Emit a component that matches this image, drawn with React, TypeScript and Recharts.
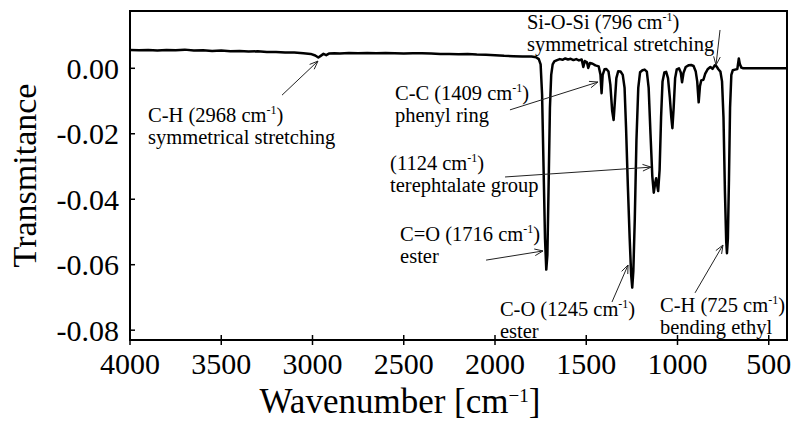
import React from 'react';
import { LineChart, Line, XAxis, YAxis, ReferenceArea, ReferenceLine, ReferenceDot, Label } from 'recharts';

const FONT = "'Liberation Serif', 'Times New Roman', serif";

const wavenumber = [
  4000, 3950, 3900, 3850, 3800, 3750, 3700, 3650, 3600, 3550, 3500, 3450, 3400, 3350, 3300, 3250,
  3200, 3150, 3100, 3050, 3010, 2985, 2968, 2955, 2940, 2925, 2910, 2880, 2850, 2800, 2750, 2700,
  2650, 2600, 2550, 2500, 2450, 2400, 2350, 2300, 2250, 2200, 2150, 2100, 2050, 2000, 1950, 1900,
  1850, 1800, 1775, 1760, 1750, 1742, 1734, 1726, 1719, 1713, 1706, 1699, 1692, 1684, 1675, 1660,
  1645, 1630, 1615, 1600, 1585, 1570, 1555, 1540, 1525, 1516, 1508, 1496, 1489, 1480, 1465, 1450,
  1432, 1422, 1416, 1410, 1400, 1390, 1378, 1368, 1358, 1350, 1343, 1335, 1325, 1312, 1300, 1290,
  1282, 1272, 1262, 1254, 1248, 1242, 1234, 1225, 1215, 1205, 1192, 1180, 1168, 1158, 1148, 1138,
  1130, 1122, 1117, 1112, 1106, 1098, 1090, 1082, 1072, 1062, 1052, 1042, 1034, 1028, 1021, 1013,
  1004, 992, 982, 975, 967, 955, 940, 925, 912, 900, 892, 884, 877, 870, 858, 848,
  835, 820, 808, 796, 786, 776, 765, 756, 748, 740, 733, 729, 724, 718, 712, 705,
  697, 685, 672, 664, 658, 650, 640, 400,
];

const transmittance = [
  0.0056, 0.0055, 0.0056, 0.0054, 0.0056, 0.0055, 0.0057, 0.0054, 0.0055, 0.0053, 0.0054, 0.0052, 0.0053, 0.0051, 0.0052, 0.005,
  0.005, 0.0048, 0.0048, 0.0046, 0.0044, 0.0039, 0.0033, 0.0038, 0.0044, 0.004, 0.0045, 0.0046, 0.0045, 0.0047, 0.0046, 0.0047,
  0.0046, 0.0047, 0.0046, 0.0045, 0.0046, 0.0046, 0.0045, 0.0044, 0.0044, 0.0043, 0.0044, 0.0042, 0.0041, 0.004, 0.0038, 0.0037,
  0.0036, 0.0036, 0.0034, 0.0028, 0.0012, -0.008, -0.03, -0.052, -0.0615, -0.057, -0.035, -0.012, -0.002, 0.0012, 0.0021, 0.0025,
  0.0028, 0.0026, 0.003, 0.0027, 0.0029, 0.0025, 0.0028, 0.0024, 0.0027, 0.0004, 0.0022, 0.0018, 0.0001, 0.0016, 0.0014, 0.0009,
  0.0006, -0.002, -0.0076, -0.002, -0.0003, -0.0002, -0.001, -0.005, -0.013, -0.0158, -0.01, -0.003, -0.0009, -0.001, -0.002, -0.006,
  -0.018, -0.036, -0.052, -0.063, -0.067, -0.062, -0.046, -0.022, -0.006, -0.0012, -0.0006, -0.0004, -0.001, -0.006, -0.02, -0.033,
  -0.038, -0.035, -0.0336, -0.0355, -0.0375, -0.031, -0.015, -0.004, -0.0013, -0.0011, -0.003, -0.009, -0.015, -0.0183, -0.012, -0.003,
  -0.0003, 0.0, -0.0013, -0.0043, -0.0014, 0.0004, 0.0009, 0.001, 0.0007, -0.001, -0.004, -0.0104, -0.0055, -0.0037, -0.0035, -0.0016,
  -0.0003, 0.0004, -0.0002, 0.0009, 0.0006, -0.0003, -0.001, -0.004, -0.015, -0.038, -0.053, -0.0565, -0.052, -0.034, -0.012, -0.002,
  -0.0006, -0.0004, -0.0002, 0.003, 0.0012, 0.0002, 0.0, 0.0,
];

const xTicks = [4000, 3500, 3000, 2500, 2000, 1500, 1000, 500];
const yTicks = [0, -0.02, -0.04, -0.06, -0.08];
const xDomain = [400, 4000];
const yDomain = [-0.083, 0.0175];

const annotationLabels = [
  { prefix: 'C-H (2968 cm', second: 'symmetrical stretching' },
  { prefix: 'Si-O-Si (796 cm', second: 'symmetrical stretching' },
  { prefix: 'C-C (1409 cm', second: 'phenyl ring' },
  { prefix: '(1124 cm', second: 'terephtalate group' },
  { prefix: 'C=O (1716 cm', second: 'ester' },
  { prefix: 'C-O (1245 cm', second: 'ester' },
  { prefix: 'C-H (725 cm', second: 'bending ethyl' },
];
// anchor of text and arrow (tail -> head) in data coordinates [wavenumber, transmittance]
const annotationText = [
  [3901, -0.0164], [1825, 0.012], [2548, -0.0097], [2575, -0.0311], [2520, -0.0528], [1973, -0.0757], [1096, -0.0744],
];
const annotationTail = [
  [3167, -0.0082], [767, 0.0117], [1918, -0.0127], [1945, -0.0332], [2049, -0.0586], [1359, -0.0714], [904, -0.0686],
];
const annotationHead = [
  [2970, 0.0022], [789, 0.001], [1436, -0.0042], [1145, -0.0302], [1737, -0.0558], [1271, -0.0601], [751, -0.054],
];

const data = wavenumber.map((wn, i) => ({ wn, t: transmittance[i] }));

const XTick = (props: any) => {
  const { x, y, payload } = props;
  return (
    <g>
      <line x1={x} x2={x} y1={y - 5} y2={y + 5} stroke="#000" strokeWidth={1.5} />
      <text x={x} y={y + 34} textAnchor="middle" fontFamily={FONT} fontSize={30} fill="#000">
        {payload.value}
      </text>
    </g>
  );
};

const YTick = (props: any) => {
  const { x, y, payload } = props;
  return (
    <g>
      <line x1={x} x2={x + 5} y1={y} y2={y} stroke="#000" strokeWidth={1.5} />
      <text x={x - 11} y={y} dy="0.35em" textAnchor="end" fontFamily={FONT} fontSize={30} fill="#000">
        {Number(payload.value).toFixed(2)}
      </text>
    </g>
  );
};

const Arrow = (props: any) => {
  const { x1, y1, x2, y2 } = props;
  const ang = Math.atan2(y2 - y1, x2 - x1);
  const L = 9;
  const a = 0.38;
  const p1x = x2 - L * Math.cos(ang - a);
  const p1y = y2 - L * Math.sin(ang - a);
  const p2x = x2 - L * Math.cos(ang + a);
  const p2y = y2 - L * Math.sin(ang + a);
  return (
    <g stroke="#222" strokeWidth={1} fill="none">
      <line x1={x1} y1={y1} x2={x2} y2={y2} />
      <polyline points={`${p1x},${p1y} ${x2},${y2} ${p2x},${p2y}`} />
    </g>
  );
};

const makeAnnText = (prefix: string, second: string) => (props: any) => {
  const { cx, cy } = props;
  return (
    <text x={cx} y={cy} fontFamily={FONT} fontSize={20.5} fill="#000">
      <tspan>{prefix}</tspan>
      <tspan dy={-8} fontSize={12}>-1</tspan>
      <tspan dy={8}>)</tspan>
      <tspan x={cx} dy={22}>{second}</tspan>
    </text>
  );
};

const XTitle = (props: any) => {
  const vb = props.viewBox || { x: 130, y: 340 };
  const cx = vb.x + 270;
  const cy = vb.y + 73;
  return (
    <text x={cx} y={cy} textAnchor="middle" fontFamily={FONT} fontSize={35} fill="#000">
      <tspan>Wavenumber [cm</tspan>
      <tspan dy={-11} fontSize={19}>−1</tspan>
      <tspan dy={11}>]</tspan>
    </text>
  );
};

const YTitle = (props: any) => {
  const vb = props.viewBox || { x: 0, y: 11, height: 329 };
  const cx = vb.x + 36;
  const cy = vb.y + vb.height / 2;
  return (
    <text x={cx} y={cy} textAnchor="middle" fontFamily={FONT} fontSize={34} fill="#000" transform={`rotate(-90, ${cx}, ${cy})`}>
      Transmitance
    </text>
  );
};

export default function App() {
  return (
    <div style={{ position: 'absolute', left: 0, top: 0, background: '#fff' }}>
      <LineChart width={793} height={421} data={data} margin={{ top: 11, right: 6, bottom: 0, left: 0 }}>
        <XAxis
          dataKey="wn"
          type="number"
          domain={xDomain}
          reversed
          ticks={xTicks}
          interval={0}
          allowDataOverflow
          height={81}
          tickSize={0}
          tickMargin={0}
          tick={<XTick />}
          axisLine={{ stroke: '#000', strokeWidth: 2 }}
          tickLine={false}
        >
          <Label content={<XTitle />} />
        </XAxis>
        <YAxis
          type="number"
          domain={yDomain}
          ticks={yTicks}
          interval={0}
          allowDataOverflow
          width={130}
          tickSize={0}
          tickMargin={0}
          tick={<YTick />}
          axisLine={{ stroke: '#000', strokeWidth: 2 }}
          tickLine={false}
        >
          <Label content={<YTitle />} />
        </YAxis>
        <ReferenceArea
          x1={xDomain[1]}
          x2={xDomain[0]}
          y1={yDomain[0]}
          y2={yDomain[1]}
          fill="none"
          fillOpacity={0}
          stroke="#000"
          strokeWidth={2}
          ifOverflow="visible"
        />
        <Line
          dataKey="t"
          type="linear"
          stroke="#000"
          strokeWidth={2.5}
          strokeLinejoin="round"
          dot={false}
          activeDot={false}
          isAnimationActive={false}
        />
        {annotationLabels.map((a, i) => (
          <ReferenceLine
            key={'arr' + i}
            segment={[
              { x: annotationTail[i][0], y: annotationTail[i][1] },
              { x: annotationHead[i][0], y: annotationHead[i][1] },
            ]}
            ifOverflow="visible"
            shape={(p: any) => <Arrow {...p} />}
          />
        ))}
        {annotationLabels.map((a, i) => (
          <ReferenceDot
            key={'txt' + i}
            x={annotationText[i][0]}
            y={annotationText[i][1]}
            r={0}
            ifOverflow="visible"
            shape={makeAnnText(a.prefix, a.second)}
          />
        ))}
      </LineChart>
    </div>
  );
}
